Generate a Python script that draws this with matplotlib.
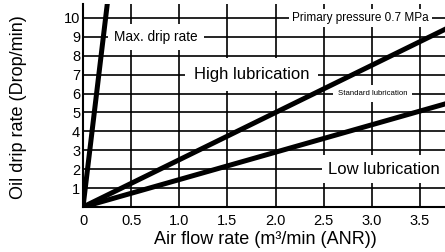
import matplotlib
matplotlib.use("Agg")
import matplotlib.pyplot as plt

plt.rcParams['font.family'] = ['Liberation Sans', 'DejaVu Sans']

# lines (all start at the origin)
max_x = [0, 0.27]
max_y = [0, 11.5]
high_x = [0, 4.0]
high_y = [0, 10.0]
low_x = [0, 4.0]
low_y = [0, 5.8]

x_ticks = [0, 0.5, 1.0, 1.5, 2.0, 2.5, 3.0, 3.5]
x_tick_labels = ["0", "0.5", "1.0", "1.5", "2.0", "2.5", "3.0", "3.5"]
y_ticks = [1, 2, 3, 4, 5, 6, 7, 8, 9, 10]

# labels sitting on grid lines
labels = ["Max. drip rate", "Primary pressure 0.7 MPa", "High lubrication",
          "Standard lubrication", "Low lubrication"]
label_pos = [(0.76, 9), (2.88, 10), (1.75, 7), (3.01, 6), (3.13, 2)]
label_size = [9.8, 8.5, 12, 5.6, 12]
label_pad = [0.45, 0.25, 0.55, 0.6, 0.4]

fig = plt.figure(figsize=(4.45, 2.52), dpi=100)
ax = fig.add_axes([83 / 445, 45 / 252, 362 / 445, 203 / 252])

ax.set_xlim(0, 3.76)
ax.set_ylim(0, 10.74)
ax.set_xticks(x_ticks)
ax.set_xticklabels(x_tick_labels)
ax.set_yticks(y_ticks)
ax.tick_params(length=0, labelsize=10.5)
ax.tick_params(axis='y', pad=2)
ax.tick_params(axis='x', pad=5)
ax.grid(True, color='black', lw=1.2, zorder=1)
ax.set_axisbelow(True)
for s in ['top', 'right']:
    ax.spines[s].set_visible(False)
for s in ['left', 'bottom']:
    ax.spines[s].set_linewidth(1.5)

# thick lines go on top of the white label boxes
for xs, ys in [(max_x, max_y), (high_x, high_y), (low_x, low_y)]:
    ax.plot(xs, ys, color='black', lw=3.6, solid_capstyle='round', zorder=5)

for txt, (lx, ly), fs, pad in zip(labels, label_pos, label_size, label_pad):
    ax.text(lx, ly, txt, fontsize=fs, ha='center', va='center', zorder=4,
            bbox=dict(boxstyle='square,pad=%s' % pad, fc='white', ec='none'))

ax.set_xlabel("Air flow rate (m³/min (ANR))", fontsize=13)
ax.xaxis.set_label_coords(0.503, -0.12)
ax.set_ylabel("Oil drip rate (Drop/min)", fontsize=13)
ax.yaxis.set_label_coords(-0.155, 0.49)

fig.savefig("out.png", dpi=100)
